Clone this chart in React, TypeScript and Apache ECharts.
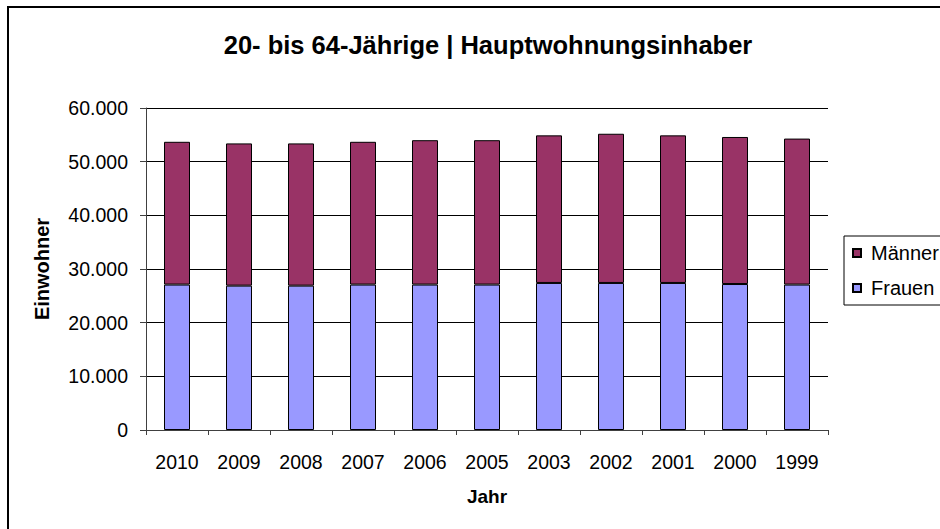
import React, { useEffect, useRef } from "react";
import * as echarts from "echarts";

const categories = ["2010", "2009", "2008", "2007", "2006", "2005", "2003", "2002", "2001", "2000", "1999"];
const frauen = [27100, 26900, 26900, 27100, 27100, 27100, 27400, 27400, 27400, 27200, 27100];
const maenner = [26600, 26500, 26500, 26600, 26900, 26900, 27500, 27800, 27500, 27400, 27200];
const titleText = "20- bis 64-Jährige | Hauptwohnungsinhaber";
const yAxisName = "Einwohner";
const xAxisName = "Jahr";

const FONT = "Arial, 'Liberation Sans', sans-serif";

function fmt(v: number): string {
  return String(v).replace(/\B(?=(\d{3})+(?!\d))/g, ".");
}

export default function App() {
  const ref = useRef<HTMLDivElement>(null);
  useEffect(() => {
    if (!ref.current) return;
    const chart = echarts.init(ref.current, undefined, { renderer: "svg" });
    chart.setOption({
      animation: false,
      backgroundColor: "#ffffff",
      textStyle: { fontFamily: FONT },
      title: {
        text: titleText,
        left: 483,
        top: 27,
        textAlign: "center",
        textStyle: { fontFamily: FONT, fontSize: 25.5, fontWeight: "bold", color: "#000" },
      },
      graphic: [
        {
          type: "rect",
          shape: { x: 8, y: 7, width: 1000, height: 600 },
          style: { fill: "none", stroke: "#000", lineWidth: 2 },
          silent: true,
          z: 100,
        },
      ],
      legend: {
        orient: "vertical",
        left: 844,
        top: 236,
        data: ["Männer", "Frauen"],
        icon: "rect",
        itemWidth: 8,
        itemHeight: 8,
        itemGap: 15,
        padding: [7, 40, 7, 8],
        borderColor: "#000",
        borderWidth: 1,
        backgroundColor: "#fff",
        textStyle: { fontFamily: FONT, fontSize: 20, color: "#000", lineHeight: 18, padding: [0, 0, 0, 5] },
      },
      grid: { left: 146, top: 108, width: 682, height: 322, containLabel: false },
      xAxis: {
        type: "category",
        data: categories,
        name: xAxisName,
        nameLocation: "middle",
        nameGap: 57,
        nameTextStyle: { fontFamily: FONT, fontSize: 19, fontWeight: "bold", color: "#000", verticalAlign: "top" },
        axisLine: { lineStyle: { color: "#404040", width: 1 } },
        axisTick: { show: true, alignWithLabel: false, length: 5, lineStyle: { color: "#404040" } },
        axisLabel: { fontFamily: FONT, fontSize: 19.5, color: "#000", margin: 22 },
      },
      yAxis: {
        type: "value",
        min: 0,
        max: 60000,
        interval: 10000,
        name: yAxisName,
        nameLocation: "middle",
        nameGap: 94,
        nameTextStyle: { fontFamily: FONT, fontSize: 20, fontWeight: "bold", color: "#000" },
        axisLine: { show: true, lineStyle: { color: "#404040", width: 1 } },
        axisTick: { show: true, length: 6, lineStyle: { color: "#404040" } },
        axisLabel: { fontFamily: FONT, fontSize: 19.5, color: "#000", margin: 18, formatter: (v: number) => fmt(v) },
        splitLine: { show: true, lineStyle: { color: "#000", width: 1 } },
      },
      series: [
        {
          name: "Frauen",
          type: "bar",
          stack: "total",
          data: frauen,
          barWidth: 26,
          itemStyle: { color: "#9999FF", borderColor: "#000", borderWidth: 1 },
        },
        {
          name: "Männer",
          type: "bar",
          stack: "total",
          data: maenner,
          barWidth: 26,
          itemStyle: { color: "#993366", borderColor: "#000", borderWidth: 1 },
        },
      ],
    });
    return () => chart.dispose();
  }, []);
  return (
    <div
      ref={ref}
      style={{ position: "fixed", left: 0, top: 0, width: 940, height: 529 }}
    />
  );
}
